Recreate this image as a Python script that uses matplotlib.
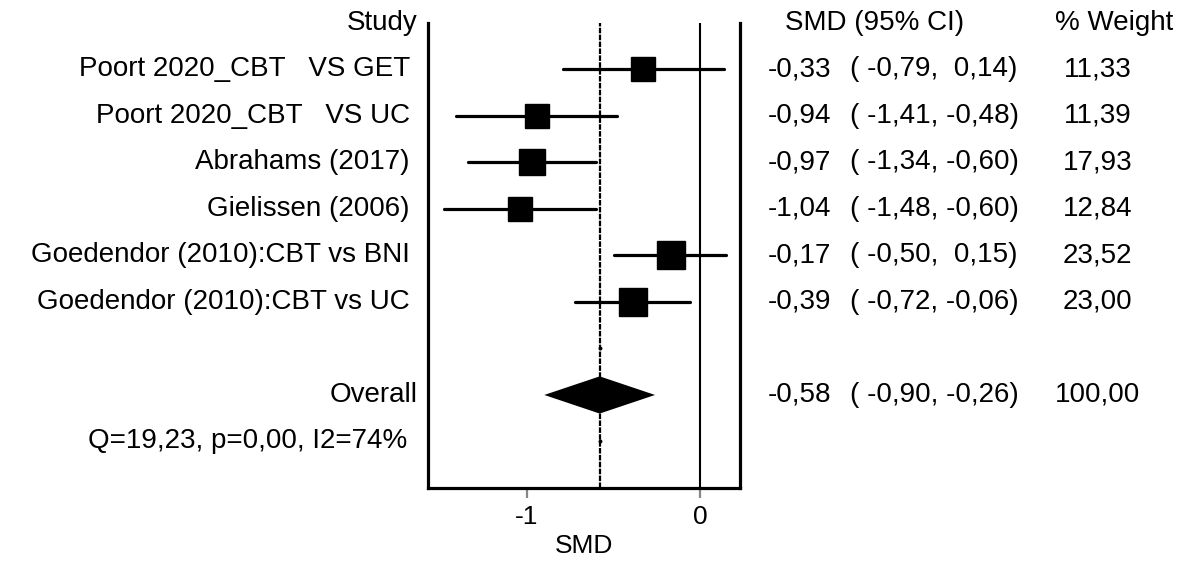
import matplotlib.pyplot as plt
import numpy as np

plt.rcParams['font.family'] = ['Liberation Sans', 'DejaVu Sans']

# forest plot data: standardised mean difference per study
studies = [
    'Poort 2020_CBT   VS GET',
    'Poort 2020_CBT   VS UC',
    'Abrahams (2017)',
    'Gielissen (2006)',
    'Goedendor (2010):CBT vs BNI',
    'Goedendor (2010):CBT vs UC',
]
smd = [-0.33, -0.94, -0.97, -1.04, -0.17, -0.39]
ci_low = [-0.79, -1.41, -1.34, -1.48, -0.50, -0.72]
ci_high = [0.14, -0.48, -0.60, -0.60, 0.15, -0.06]
weights = [11.33, 11.39, 17.93, 12.84, 23.52, 23.00]

overall_smd = -0.58
overall_low = -0.90
overall_high = -0.26
overall_weight = 100.00
heterogeneity = 'Q=19,23, p=0,00, I2=74%'

xticks = [-1, 0]


def fmt(v):
    # comma decimal, padded so positive values line up with negatives
    return f'{v:5.2f}'.replace('.', ',')


fig = plt.figure(figsize=(11.78, 5.62), dpi=100)
ax = fig.add_axes([428 / 1178, 1 - 488 / 562, 312 / 1178, (488 - 22.8) / 562])

rows = np.arange(1, len(studies) + 1)
overall_row = len(studies) + 2
q_row = overall_row + 1

# reference lines
ax.axvline(0, color='black', lw=1.5, zorder=1)
ax.axvline(overall_smd, color='black', lw=1.6, linestyle=(0, (2.5, 0.6)), zorder=1)

# study CIs and weighted squares
for r, es, lo, hi, w in zip(rows, smd, ci_low, ci_high, weights):
    ax.plot([lo, hi], [r, r], color='black', lw=2.3, solid_capstyle='round', zorder=2)
    side = (15 + 2.7 * np.sqrt(w)) * 0.72
    ax.plot(es, r, marker='s', ms=side, color='black', zorder=3)

# pooled estimate diamond
h = 0.4
ax.fill([overall_low, overall_smd, overall_high, overall_smd],
        [overall_row, overall_row - h, overall_row, overall_row + h],
        color='black', lw=0, zorder=3)
ax.plot([overall_smd, overall_smd], [overall_row - 1, q_row], 'o',
        color='black', ms=1.8, zorder=3)

ax.set_xlim((428 - 700) / 173, (740 - 700) / 173)
ax.set_ylim(10, 0)
ax.set_xticks(xticks)
ax.set_xticklabels([str(t) for t in xticks], fontsize=19)
ax.set_yticks([])
ax.tick_params(axis='x', direction='out', length=7, width=1.6, color='#888888', pad=5)
ax.set_xlabel('SMD', fontsize=19, labelpad=4)

for side_name in ['left', 'right', 'bottom']:
    ax.spines[side_name].set_linewidth(2.3)
ax.spines['top'].set_visible(False)

# text columns (x in axes fraction, y in row units)
tr = ax.get_yaxis_transform()
fs = 20
ax.text(-0.035, 0, 'Study', transform=tr, ha='right', va='center', fontsize=fs)
ax.text(1.144, 0, 'SMD (95% CI)', transform=tr, ha='left', va='center', fontsize=fs)
ax.text(2.01, 0, '% Weight', transform=tr, ha='left', va='center', fontsize=fs)

for r, name, es, lo, hi, w in zip(rows, studies, smd, ci_low, ci_high, weights):
    ax.text(-0.058, r, name, transform=tr, ha='right', va='center', fontsize=fs)
    ax.text(1.09, r, fmt(es), transform=tr, ha='left', va='center', fontsize=fs)
    ax.text(1.352, r, f'( {fmt(lo)}, {fmt(hi)})', transform=tr, ha='left',
            va='center', fontsize=fs)
    ax.text(2.147, r, f'{w:.2f}'.replace('.', ','), transform=tr, ha='center',
            va='center', fontsize=fs)

ax.text(-0.032, overall_row, 'Overall', transform=tr, ha='right', va='center', fontsize=fs)
ax.text(1.09, overall_row, fmt(overall_smd), transform=tr, ha='left', va='center', fontsize=fs)
ax.text(1.352, overall_row, f'( {fmt(overall_low)}, {fmt(overall_high)})', transform=tr,
        ha='left', va='center', fontsize=fs)
ax.text(2.147, overall_row, f'{overall_weight:.2f}'.replace('.', ','), transform=tr,
        ha='center', va='center', fontsize=fs)
ax.text(-0.068, q_row, heterogeneity, transform=tr, ha='right', va='center', fontsize=fs)

fig.savefig('out.png', dpi=100)
plt.close(fig)
